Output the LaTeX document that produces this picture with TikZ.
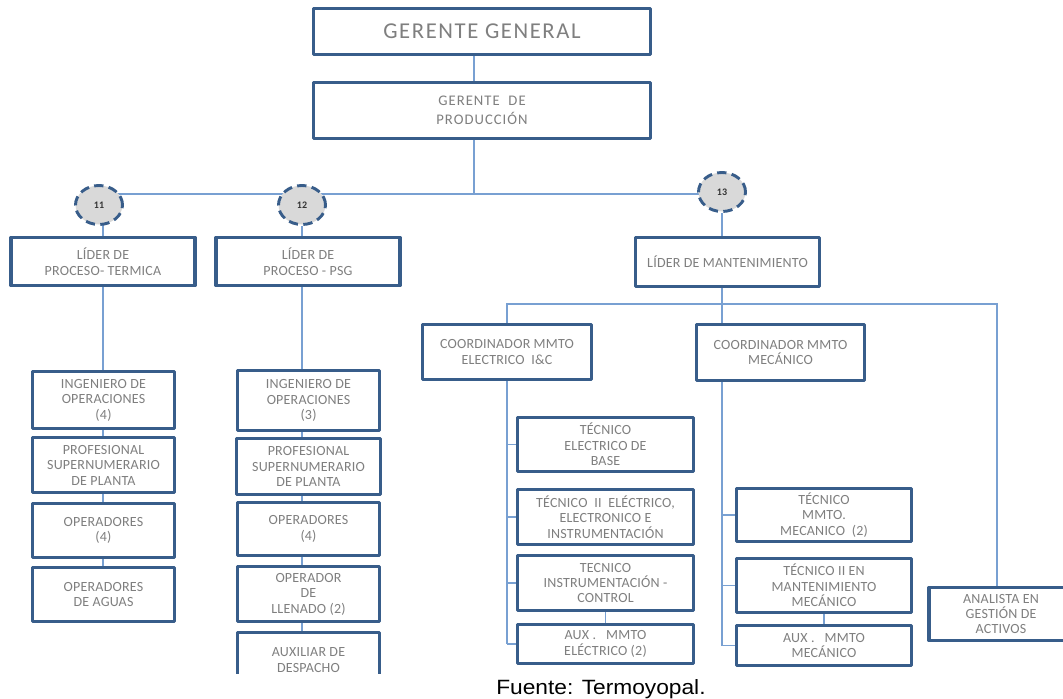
\documentclass[tikz,border=0pt]{standalone}
\usepackage{fontspec}
\setmainfont{Carlito}[LetterSpace=1.5]
\newfontfamily\widefont{Carlito}[LetterSpace=7]
\newfontfamily\arialfont{Liberation Sans}[FakeStretch=1.1]
\usetikzlibrary{shapes.geometric,backgrounds}
\definecolor{boxblue}{RGB}{56,93,138}
\definecolor{linkblue}{RGB}{120,160,210}
\definecolor{txtgray}{RGB}{127,127,127}
\definecolor{bubblegray}{RGB}{217,217,217}
\begin{document}
\begin{tikzpicture}[x=0.75pt,y=-0.75pt,line join=round]
\tikzset{
  cargo/.style 2 args={draw=boxblue,line width=2.6pt,fill=white,text=txtgray,align=center,inner sep=0pt,
    minimum width=#1*0.75pt,minimum height=#2*0.75pt,font=\fontsize{10.5}{11.6}\selectfont},
  nivel/.style={ellipse,draw=boxblue,line width=2.2pt,dash pattern=on 7pt off 4pt,fill=bubblegray,
    minimum width=47*0.75pt,minimum height=39*0.75pt,inner sep=0pt,font=\bfseries\fontsize{7.5}{8}\selectfont,text=black!80},
  enlace/.style={draw=linkblue,line width=0.9pt}
}
\useasboundingbox (0,0) rectangle (1063,699);
\clip (0,0) rectangle (1063,699);
\coordinate (tronco) at (474,194);
\coordinate (ramal) at (997,304);
\node[cargo={337}{46},font=\widefont\fontsize{17}{20}\selectfont] (gg) at (482,31.5) {GERENTE GENERAL};
\node[cargo={337}{56},font=\widefont\fontsize{11}{14.2}\selectfont] (gp) at (482,110.5) {GERENTE~ DE\\PRODUCCIÓN};
\node[nivel] (n11) at (99,205) {11};
\node[nivel] (n12) at (302,205) {12};
\node[nivel] (n13) at (722,192) {13};
\node[cargo={184}{48}] (lt) at (103,261.5) {LÍDER DE\\PROCESO- TERMICA};
\node[cargo={184}{48}] (lp) at (308,261.5) {LÍDER DE\\PROCESO - PSG};
\node[cargo={184}{49}] (lm) at (727.5,262) {LÍDER DE MANTENIMIENTO};
\node[cargo={169}{55}] (ce) at (507,352) {COORDINADOR MMTO\\ELECTRICO~ I\&C};
\node[cargo={168}{56}] (cm) at (780.5,352.5) {COORDINADOR MMTO\\MECÁNICO};
\node[cargo={142}{57}] (it) at (103.5,400) {INGENIERO DE\\OPERACIONES\\(4)};
\node[cargo={142}{55}] (pt) at (103.5,465) {PROFESIONAL\\SUPERNUMERARIO\\DE PLANTA};
\node[cargo={142}{54}] (ot) at (103.5,530.5) {OPERADORES\\(4)};
\node[cargo={142}{54}] (at) at (103.5,594.5) {OPERADORES\\DE AGUAS};
\node[cargo={142}{60}] (ip) at (308.5,400.5) {INGENIERO DE\\OPERACIONES\\(3)};
\node[cargo={144}{56}] (pp) at (308.5,466.5) {PROFESIONAL\\SUPERNUMERARIO\\DE PLANTA};
\node[cargo={142}{53}] (op) at (308.5,529) {OPERADORES\\(4)};
\node[cargo={142}{55}] (ll) at (308.5,594) {OPERADOR\\DE\\LLENADO (2)};
\begin{scope}
  \clip (200,620) rectangle (420,673);
  \node[cargo={142}{55}] (dp) at (308.5,660) {AUXILIAR DE\\DESPACHO};
\end{scope}
\node[cargo={176}{54}] (te) at (605.5,444.5) {TÉCNICO\\ELECTRICO DE\\BASE};
\node[cargo={176}{55}] (t2) at (605.5,517) {TÉCNICO~ II~ ELÉCTRICO,\\ELECTRONICO E\\INSTRUMENTACIÓN};
\node[cargo={176}{55}] (ti) at (605.5,583) {TECNICO\\INSTRUMENTACIÓN -\\CONTROL};
\node[cargo={176}{39}] (ae) at (605.5,644) {AUX .~~ MMTO\\ELÉCTRICO (2)};
\node[cargo={175}{53}] (tm) at (824,515) {TÉCNICO\\MMTO.\\MECANICO~ (2)};
\node[cargo={175}{54}] (tn) at (824,585.5) {TÉCNICO II EN\\MANTENIMIENTO\\MECÁNICO};
\node[cargo={175}{40}] (am) at (824,645.5) {AUX .~~ MMTO\\MECÁNICO};
\node[cargo={144}{53}] (ag) at (1001,614) {ANALISTA EN\\GESTIÓN DE\\ACTIVOS};
\node[anchor=base west,inner sep=0pt,font=\arialfont\fontsize{15.5}{18}\selectfont] (fuente) at (496,694) {Fuente: Termoyopal.};
\begin{scope}[on background layer]
  \draw[enlace] (gg.south -| tronco) -- (gp.north -| tronco);
  \draw[enlace] (gp.south -| tronco) -- (tronco);
  \draw[enlace] (n11 |- tronco) -- (n13 |- tronco);
  \draw[enlace] (lt.north) -- (lt.north |- n11);
  \draw[enlace] (lt.south) -- (lt.south |- at.north);
  \draw[enlace] (n12) -- (n12 |- dp.north);
  \draw[enlace] (n13) -- (n13 |- am.west);
  \draw[enlace] (ce.north) |- (ramal) -- (ramal |- ag.north);
  \draw[enlace] (ce.south) -- (ce.south |- ae.west);
  \foreach \b in {te,t2,ti,ae} \draw[enlace] (ce.south |- \b.west) -- (\b.west);
  \foreach \b in {tm,tn,am} \draw[enlace] (n13 |- \b.west) -- (\b.west);
  \draw[enlace] (ti) -- (ae);
  \draw[enlace] (tn) -- (am);
\end{scope}
\end{tikzpicture}
\end{document}
